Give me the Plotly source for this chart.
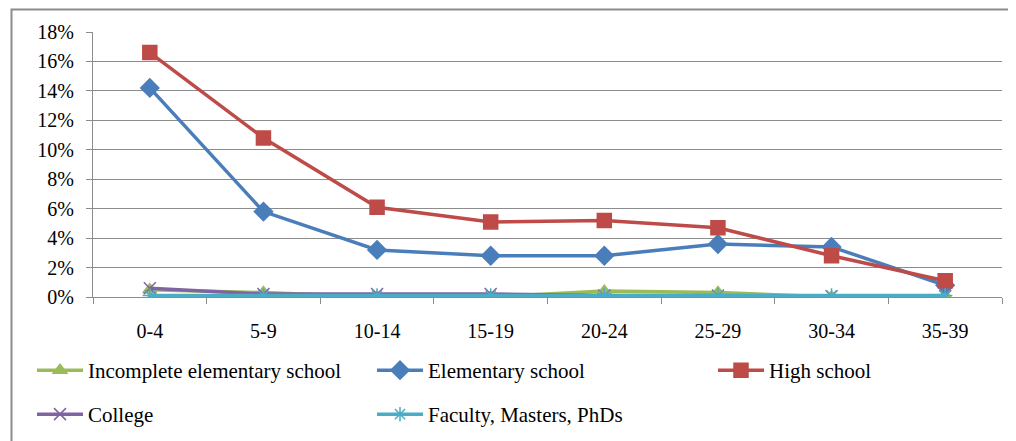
import plotly.graph_objects as go

categories = ["0-4", "5-9", "10-14", "15-19", "20-24", "25-29", "30-34", "35-39"]
incomplete_elem = [0.005, 0.003, 0.000, 0.000, 0.004, 0.003, 0.000, 0.001]
elementary = [0.142, 0.058, 0.032, 0.028, 0.028, 0.036, 0.034, 0.008]
high_school = [0.166, 0.108, 0.061, 0.051, 0.052, 0.047, 0.028, 0.011]
college = [0.006, 0.002, 0.002, 0.002, 0.001, 0.001, 0.0005, 0.0005]
faculty = [0.001, 0.001, 0.001, 0.001, 0.001, 0.001, 0.001, 0.001]
y_ticks = [0, 0.02, 0.04, 0.06, 0.08, 0.10, 0.12, 0.14, 0.16, 0.18]

FONT = "Liberation Serif"
W, H = 1016, 441
OFF = 8  # page offset of the figure (body margin)
# desired plot area in page pixels
L, R, T, B = 93, 1002, 32, 297
pw, ph = R - L, B - T

def px_x(p):
    return (p - L) / pw

def px_y(p):
    return (B - p) / ph

def cont_x(p):
    return p / W

def cont_y(p):
    return 1 - p / H

fig = go.Figure()
series = [
    ("Incomplete elementary school", incomplete_elem, "#9BBB59", "triangle-up", 12, "legend", 24, 342),
    ("Elementary school", elementary, "#4A7EBB", "diamond", 14, "legend2", 364, 342),
    ("High school", high_school, "#BE4B48", "square", 14, "legend3", 705, 342),
    ("College", college, "#8064A2", "x-thin-open", 12, "legend4", 24, 386),
    ("Faculty, Masters, PhDs", faculty, "#4BACC6", "asterisk-open", 12, "legend5", 364, 386),
]
legends = {}
for name, vals, color, sym, size, lg, lx, ly in series:
    fig.add_trace(go.Scatter(
        x=categories, y=vals, name=name, mode="lines+markers",
        line=dict(color=color, width=3.5),
        marker=dict(symbol=sym, size=size, color=color, line=dict(color=color, width=1.5)),
        legend=lg,
    ))
    legends[lg] = dict(orientation="h", xanchor="left", yanchor="top",
                       xref="container", yref="container",
                       x=cont_x(lx), y=cont_y(ly), itemwidth=46,
                       font=dict(family=FONT, size=21, color="black"),
                       bgcolor="rgba(0,0,0,0)")

fig.update_layout(
    width=W, height=H,
    margin=dict(l=L - OFF, r=W - (R - OFF), t=T - OFF, b=H - (B - OFF), autoexpand=False),
    plot_bgcolor="white", paper_bgcolor="white",
    font=dict(family=FONT, size=20, color="black"),
    showlegend=True,
    **legends,
)
fig.update_xaxes(
    type="category", range=[-0.5, 7.5], showgrid=False,
    showline=True, linecolor="#8C8C8C", linewidth=1,
    ticks="outside", tickson="boundaries", ticklen=6, tickcolor="#8C8C8C",
    tickfont=dict(family=FONT, size=20, color="black"), ticklabelstandoff=16,
)
fig.update_yaxes(
    range=[0, 0.18], tickvals=y_ticks, tickformat=".0%",
    showgrid=True, gridcolor="#8C8C8C", gridwidth=1,
    showline=True, linecolor="#8C8C8C", linewidth=1, zeroline=False,
    ticks="outside", ticklen=6, tickcolor="#8C8C8C",
    tickfont=dict(family=FONT, size=20, color="black"), ticklabelstandoff=8,
)
fig.add_shape(type="rect", xref="paper", yref="paper",
              x0=px_x(11.5), x1=px_x(1030), y0=px_y(460), y1=px_y(9.5),
              line=dict(color="#8C8C8C", width=2), fillcolor="rgba(0,0,0,0)", layer="below")

fig.write_html("out.html")
